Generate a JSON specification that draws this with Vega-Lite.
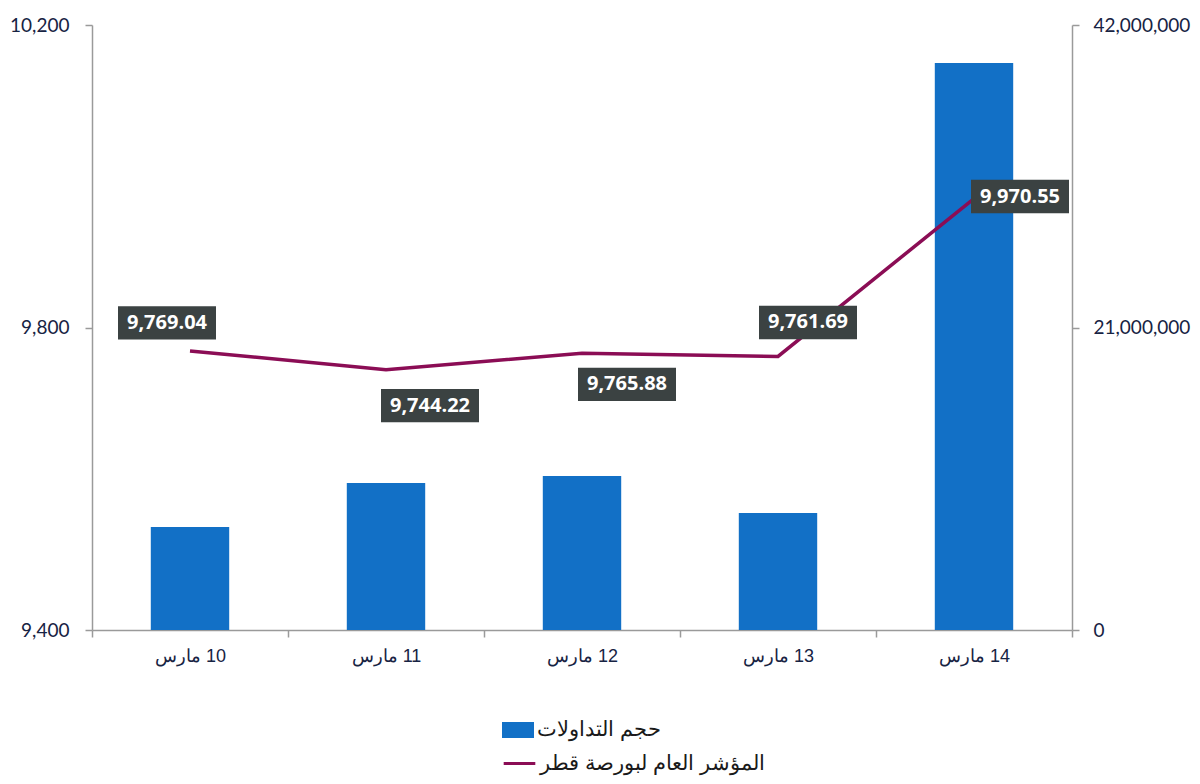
{
  "$schema": "https://vega.github.io/schema/vega-lite/v6.json",
  "width": 980,
  "height": 605,
  "autosize": {"type": "none"},
  "padding": {"left": 92, "top": 25, "right": 128, "bottom": 154},
  "background": "white",
  "config": {
    "view": {"stroke": null},
    "font": "Lato",
    "axis": {
      "grid": false,
      "title": null,
      "domainColor": "#9a9a9a",
      "domainWidth": 1.5,
      "tickColor": "#9a9a9a",
      "tickWidth": 1.5,
      "tickSize": 7,
      "labelColor": "#172343",
      "labelFont": "Lato",
      "labelFontSize": 19
    },
    "legend": {
      "orient": "none",
      "padding": 0,
      "labelFontSize": 21,
      "labelColor": "#1a1a1a",
      "labelFont": "Liberation Sans",
      "labelOffset": 3,
      "labelLimit": 500,
      "title": null
    }
  },
  "data": {
    "values": [
      {"day": 10, "volume": 7150000, "index": 9769.04},
      {"day": 11, "volume": 10200000, "index": 9744.22},
      {"day": 12, "volume": 10690000, "index": 9765.88},
      {"day": 13, "volume": 8120000, "index": 9761.69},
      {"day": 14, "volume": 39360000, "index": 9970.55}
    ]
  },
  "encoding": {
    "x": {
      "field": "day",
      "type": "ordinal",
      "scale": {"paddingInner": 0, "paddingOuter": 0},
      "axis": {
        "labelAngle": 0,
        "tickBand": "extent",
        "labelFont": "Liberation Sans",
        "labelFontSize": 18,
        "labelPadding": 10,
        "labelExpr": "datum.label ? '\u200f' + datum.label + ' مارس' : ''"
      }
    }
  },
  "layer": [
    {
      "mark": {"type": "bar", "width": {"band": 0.4}},
      "encoding": {
        "y": {
          "field": "volume",
          "type": "quantitative",
          "scale": {"domain": [0, 42000000], "nice": false},
          "axis": {"orient": "right", "values": [0, 21000000, 42000000], "format": ",.0f", "labelPadding": 14}
        },
        "fill": {
          "datum": "حجم التداولات",
          "scale": {"range": ["#1270C6"]},
          "legend": {
            "legendX": 410,
            "legendY": 689,
            "symbolType": "M-1,-0.5L1,-0.5L1,0.5L-1,0.5Z",
            "symbolSize": 1024,
            "symbolStrokeWidth": 0
          }
        }
      }
    },
    {
      "encoding": {
        "y": {
          "field": "index",
          "type": "quantitative",
          "scale": {"domain": [9400, 10200], "nice": false, "zero": false},
          "axis": {"orient": "left", "values": [9400, 9800, 10200], "format": ",.0f", "labelPadding": 16}
        }
      },
      "layer": [
        {
          "mark": {"type": "line", "strokeWidth": 3.5},
          "encoding": {
            "stroke": {
              "datum": "المؤشر العام لبورصة قطر",
              "scale": {"range": ["#8B0D55"]},
              "legend": {
                "legendX": 410,
                "legendY": 721,
                "symbolType": "stroke",
                "symbolSize": 1000,
                "symbolStrokeWidth": 3
              }
            }
          }
        },
        {
          "mark": {
            "type": "point",
            "shape": "M-1,-0.34L1,-0.34L1,0.34L-1,0.34Z",
            "size": 9604,
            "filled": true,
            "color": "#3B4242",
            "opacity": 1,
            "xOffset": {"expr": "datum.day==10?-23:datum.day==11?44:datum.day==12?45:datum.day==13?30:46"},
            "yOffset": {"expr": "datum.day==10?-28:datum.day==11?36:datum.day==12?31:datum.day==13?-34:-2"}
          }
        },
        {
          "mark": {
            "type": "text",
            "color": "white",
            "font": "Open Sans",
            "fontWeight": "bold",
            "fontSize": 20,
            "baseline": "middle",
            "align": "center",
            "xOffset": {"expr": "datum.day==10?-23:datum.day==11?44:datum.day==12?45:datum.day==13?30:46"},
            "yOffset": {"expr": "datum.day==10?-28:datum.day==11?36:datum.day==12?31:datum.day==13?-34:-2"}
          },
          "encoding": {"text": {"field": "index", "type": "quantitative", "format": ",.2f"}}
        }
      ]
    }
  ],
  "resolve": {"scale": {"y": "independent"}}
}
